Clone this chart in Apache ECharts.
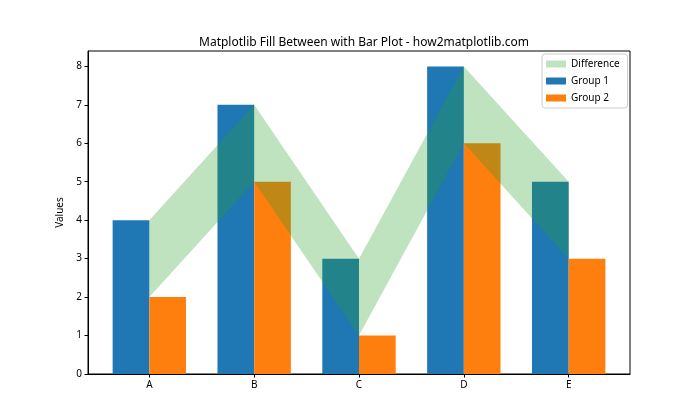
<!DOCTYPE html>
<html><head><meta charset="utf-8">
<script src="https://cdn.jsdelivr.net/npm/echarts@6/dist/echarts.min.js"></script>
<style>html,body{margin:0;padding:0;background:#fff}#c{width:700px;height:420px}</style>
</head><body><div id="c"></div>
<script>
var categories = ['A', 'B', 'C', 'D', 'E'];
var group1 = [4, 7, 3, 8, 5];
var group2 = [2, 5, 1, 6, 3];
var yTicks = [0, 1, 2, 3, 4, 5, 6, 7, 8];
var barW = 0.35;
var FONT = 'Noto Sans';

var chart = echarts.init(document.getElementById('c'));
var idx = categories.map(function (c, i) { return i; });

function barSeries(name, values, offset, color) {
  return {
    name: name, type: 'custom', z: 2,
    itemStyle: { color: color },
    data: values.map(function (v, i) { return [i, v]; }),
    encode: { x: 0, y: 1 },
    renderItem: function (params, api) {
      var x = api.value(0), y = api.value(1);
      var p1 = api.coord([x + offset, y]);
      var p2 = api.coord([x + offset + barW, 0]);
      return { type: 'rect', shape: { x: p1[0], y: p1[1], width: p2[0] - p1[0], height: p2[1] - p1[1] },
        style: { fill: color } };
    }
  };
}

var option = {
  animation: false,
  backgroundColor: '#fff',
  title: { text: 'Matplotlib Fill Between with Bar Plot - how2matplotlib.com', left: 359, textAlign: 'center', top: 32,
    textStyle: { fontFamily: FONT, fontSize: 12, fontWeight: 'normal', color: '#000' } },
  grid: { left: 88, right: 70, top: 51, bottom: 46, show: true, borderColor: '#000', borderWidth: 1, backgroundColor: 'transparent' },
  legend: {
    orient: 'vertical', left: 542, top: 54,
    backgroundColor: '#fff', borderColor: '#cccccc', borderWidth: 1, borderRadius: 3,
    padding: [5, 8, 5, 4], itemWidth: 20, itemHeight: 7, itemGap: 7,
    textStyle: { fontFamily: FONT, fontSize: 10, color: '#000' },
    icon: 'rect',
    data: [
      { name: 'Difference', itemStyle: { color: 'rgba(44,160,44,0.3)' } },
      { name: 'Group 1', itemStyle: { color: '#1f77b4' } },
      { name: 'Group 2', itemStyle: { color: '#ff7f0e' } }
    ]
  },
  xAxis: {
    type: 'value', min: -0.585, max: 4.585,
    splitLine: { show: false },
    axisLine: { onZero: false, lineStyle: { color: '#000' } },
    axisTick: { show: true, length: 3.5, lineStyle: { color: '#000' }, customValues: idx },
    axisLabel: { customValues: idx, fontFamily: FONT, fontSize: 10, color: '#000', margin: 6,
      formatter: function (v) { return categories[Math.round(v)]; } }
  },
  yAxis: {
    type: 'value', min: 0, max: 8.4,
    name: 'Values', nameLocation: 'middle', nameGap: 19,
    nameTextStyle: { fontFamily: FONT, fontSize: 10, color: '#000' },
    splitLine: { show: false },
    axisLine: { show: true, onZero: false, lineStyle: { color: '#000' } },
    axisTick: { show: true, length: 3.5, lineStyle: { color: '#000' }, customValues: yTicks },
    axisLabel: { customValues: yTicks, fontFamily: FONT, fontSize: 10, color: '#000', margin: 6 }
  },
  series: [
    barSeries('Group 1', group1, -barW, '#1f77b4'),
    barSeries('Group 2', group2, 0, '#ff7f0e'),
    {
      name: 'Difference', type: 'custom', z: 5,
      itemStyle: { color: 'rgba(44,160,44,0.3)' },
      data: idx.map(function (i) { return [i, group1[i], group2[i]]; }),
      encode: { x: 0, y: [1, 2] },
      renderItem: function (params, api) {
        if (params.dataIndex !== 0) return null;
        var pts = [];
        for (var i = 0; i < categories.length; i++) pts.push(api.coord([i, group1[i]]));
        for (var j = categories.length - 1; j >= 0; j--) pts.push(api.coord([j, group2[j]]));
        return { type: 'polygon', shape: { points: pts }, style: { fill: '#2ca02c', opacity: 0.3 } };
      }
    }
  ]
};
chart.setOption(option);
</script></body></html>
